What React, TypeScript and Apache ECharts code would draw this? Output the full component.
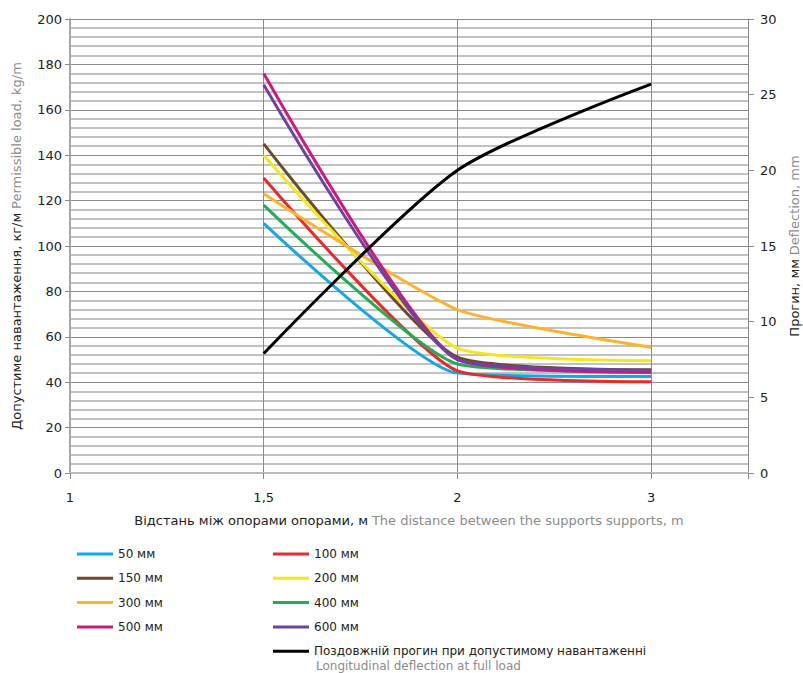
import React, { useEffect, useRef } from "react";
import * as echarts from "echarts";

const xLabels = ["1", "1,5", "2", "3"];
const xPos = [1, 2, 3]; // positions of 1,5 / 2 / 3
const seriesNames = ["50 мм", "100 мм", "150 мм", "200 мм", "300 мм", "400 мм", "500 мм", "600 мм"];
const s50 = [110, 44, 42.5];
const s100 = [130, 45, 40.2];
const s150 = [145, 51, 45.5];
const s200 = [140, 55, 49.5];
const s300 = [123, 72, 55.4];
const s400 = [118, 48, 44.5];
const s500 = [176, 50, 44.3];
const s600 = [171, 50, 45.3];
const deflection = [7.9, 20.0, 25.7];
const deflectionName = "Поздовжній прогин при допустимому навантаженні";
const colors = ["#12a9e6", "#ea2a2a", "#6f4a22", "#f4e81a", "#fdb32b", "#1fae55", "#d0187f", "#6c43a0"];

const FONT = "DejaVu Sans, Verdana, sans-serif";

export default function App() {
  const ref = useRef<HTMLDivElement>(null);
  useEffect(() => {
    if (!ref.current) return;
    const chart = echarts.init(ref.current, null, { renderer: "svg" });
    const loads = [s50, s100, s150, s200, s300, s400, s500, s600];
    const series: any[] = loads.map((arr, i) => ({
      name: seriesNames[i],
      type: "line",
      yAxisIndex: 0,
      data: arr.map((v, j) => [xPos[j], v]),
      smooth: 0.18,
      symbol: "none",
      lineStyle: { width: 3, color: colors[i] },
      itemStyle: { color: colors[i] },
      z: 3,
    }));
    series.push({
      name: deflectionName,
      type: "line",
      yAxisIndex: 1,
      data: deflection.map((v, j) => [xPos[j], v]),
      smooth: 0.25,
      symbol: "none",
      lineStyle: { width: 3, color: "#000" },
      itemStyle: { color: "#000" },
      z: 4,
    });
    const legendCommon = {
      orient: "vertical",
      icon: "rect",
      itemWidth: 36,
      itemHeight: 3,
      itemGap: 12.3,
      padding: 0,
      textStyle: { fontFamily: FONT, fontSize: 12, color: "#222" },
    };
    chart.setOption({
      animation: false,
      backgroundColor: "#fff",
      textStyle: { fontFamily: FONT },
      grid: { left: 70, right: 55, top: 19, bottom: 200, containLabel: false, outerBoundsMode: "none" },
      legend: [
        { ...legendCommon, left: 77, top: 548, data: [seriesNames[0], seriesNames[2], seriesNames[4], seriesNames[6]] },
        { ...legendCommon, left: 273, top: 548, data: [seriesNames[1], seriesNames[3], seriesNames[5], seriesNames[7], deflectionName] },
      ],
      graphic: [
        {
          type: "text",
          left: 316,
          top: 660,
          style: { text: "Longitudinal deflection at full load", fill: "#8c8c8c", fontSize: 12, fontFamily: FONT },
        },
      ],
      xAxis: {
        type: "value",
        min: 0,
        max: 3.5,
        interval: 1,
        axisLine: { show: true, lineStyle: { color: "#bdbdbd", width: 2 } },
        axisTick: { show: true, length: 6, lineStyle: { color: "#8a8a8a" } },
        axisLabel: {
          margin: 18,
          fontSize: 13,
          color: "#222",
          fontFamily: FONT,
          formatter: (v: number) => (Number.isInteger(v) && v >= 0 && v < xLabels.length ? xLabels[v] : ""),
        },
        splitLine: { show: true, lineStyle: { color: "#8a8a8a", width: 1 } },
        name: "{a|Відстань між опорами опорами, м} {b|The distance between the supports supports, m}",
        nameLocation: "middle",
        nameGap: 41,
        nameTextStyle: {
          rich: {
            a: { fontSize: 13, color: "#222", fontFamily: FONT },
            b: { fontSize: 13, color: "#8c8c8c", fontFamily: FONT },
          },
        },
      },
      yAxis: [
        {
          type: "value",
          min: 0,
          max: 200,
          interval: 20,
          position: "left",
          axisLine: { show: true, lineStyle: { color: "#a8a8a8", width: 2 } },
          axisTick: { show: true, length: 5, lineStyle: { color: "#8a8a8a" } },
          axisLabel: { fontSize: 13, color: "#222", fontFamily: FONT, margin: 8 },
          splitLine: { show: true, lineStyle: { color: "#8a8a8a", width: 1 } },
          minorTick: { show: false, splitNumber: 5 },
          minorSplitLine: { show: true, lineStyle: { color: "#c2c2c2", width: 2 } },
          name: "{a|Допустиме навантаження, кг/м} {b|Permissible load, kg/m}",
          nameLocation: "middle",
          nameRotate: 90,
          nameGap: 47,
          nameTextStyle: {
            rich: {
              a: { fontSize: 13, color: "#222", fontFamily: FONT },
              b: { fontSize: 13, color: "#8c8c8c", fontFamily: FONT },
            },
          },
        },
        {
          type: "value",
          min: 0,
          max: 30,
          interval: 5,
          position: "right",
          axisLine: { show: true, lineStyle: { color: "#8a8a8a", width: 1 } },
          axisTick: { show: true, length: 6, lineStyle: { color: "#8a8a8a" } },
          axisLabel: { fontSize: 13, color: "#222", fontFamily: FONT, margin: 12 },
          splitLine: { show: false },
          name: "{a|Прогин, мм} {b|Deflection, mm}",
          nameLocation: "middle",
          nameRotate: 90,
          nameGap: 40,
          nameTextStyle: {
            rich: {
              a: { fontSize: 13, color: "#222", fontFamily: FONT },
              b: { fontSize: 13, color: "#8c8c8c", fontFamily: FONT },
            },
          },
        },
      ],
      series,
    });
    return () => chart.dispose();
  }, []);
  return (
    <div
      ref={ref}
      style={{ position: "fixed", left: 0, top: 0, width: 803, height: 673 }}
    />
  );
}
